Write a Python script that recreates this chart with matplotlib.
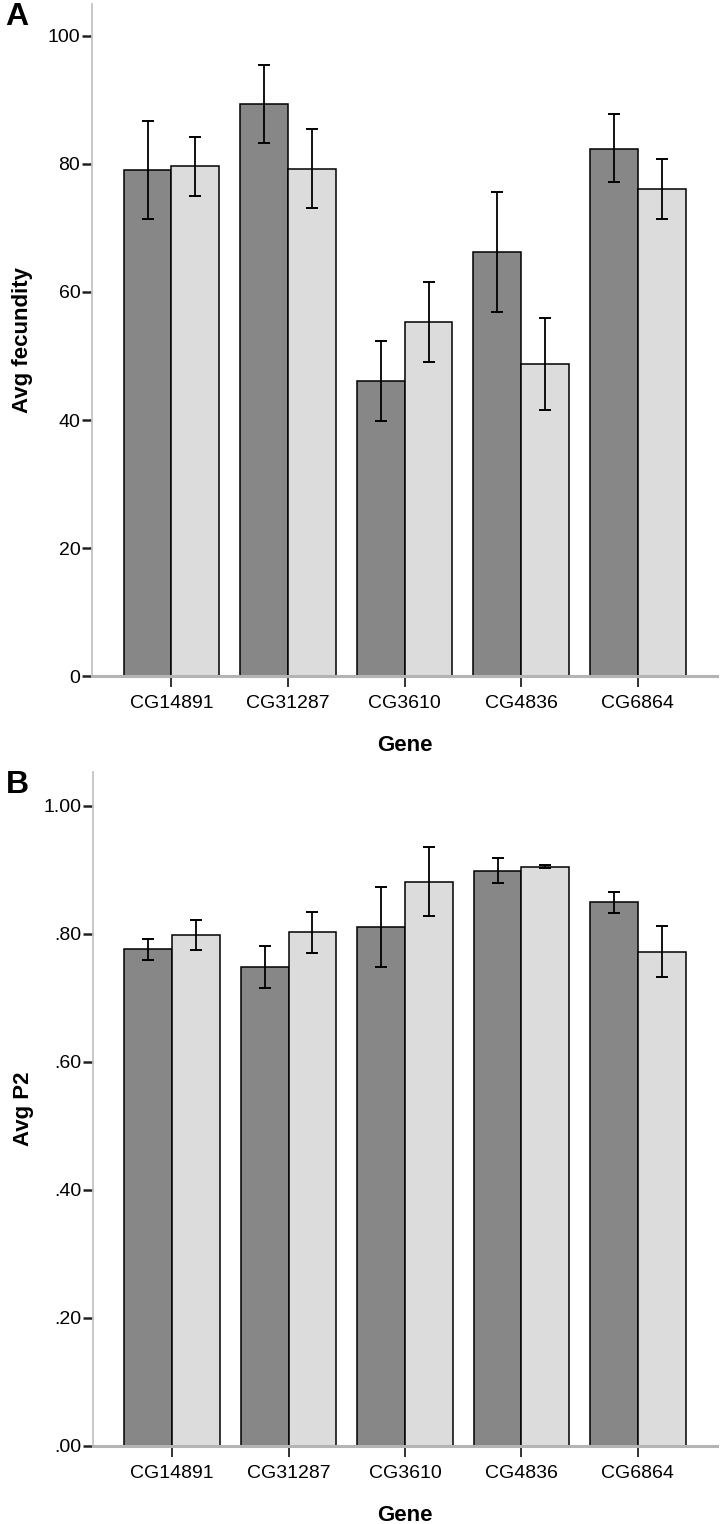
import numpy as np
import matplotlib
matplotlib.use('Agg')
import matplotlib.pyplot as plt

genes = ['CG14891', 'CG31287', 'CG3610', 'CG4836', 'CG6864']

# panel A - avg fecundity (dark / light bars), error bar ends
fec_dark = [79.0, 89.3, 46.1, 66.2, 82.4]
fec_dark_hi = [86.7, 95.4, 52.3, 75.6, 87.8]
fec_dark_lo = [71.4, 83.3, 39.9, 56.9, 77.2]
fec_light = [79.7, 79.2, 55.3, 48.8, 76.1]
fec_light_hi = [84.2, 85.5, 61.6, 55.9, 80.8]
fec_light_lo = [75.0, 73.1, 49.1, 41.6, 71.4]

# panel B - avg P2
p2_dark = [0.776, 0.748, 0.810, 0.898, 0.850]
p2_dark_hi = [0.792, 0.781, 0.873, 0.918, 0.865]
p2_dark_lo = [0.759, 0.715, 0.748, 0.880, 0.832]
p2_light = [0.798, 0.803, 0.881, 0.905, 0.772]
p2_light_hi = [0.822, 0.834, 0.935, 0.907, 0.812]
p2_light_lo = [0.775, 0.770, 0.828, 0.903, 0.733]

fec_ticks = [0, 20, 40, 60, 80, 100]
p2_ticks = [0.0, 0.2, 0.4, 0.6, 0.8, 1.0]

DARK = '#878787'
LIGHT = '#dcdcdc'
FONT = 'Liberation Sans'


def draw_panel(ax, dark, dark_hi, dark_lo, light, light_hi, light_lo,
               ticks, ticklabels, ymax, ylabel, letter):
    x = np.arange(len(genes))
    w = 0.41
    err_kw = dict(ecolor='black', elinewidth=1.3, capsize=4.5, capthick=1.4)
    dark = np.array(dark)
    light = np.array(light)
    d_err = [dark - np.array(dark_lo), np.array(dark_hi) - dark]
    l_err = [light - np.array(light_lo), np.array(light_hi) - light]
    ax.bar(x - w / 2, dark, w, color=DARK, edgecolor='black', linewidth=1.1,
           yerr=d_err, error_kw=err_kw, zorder=2)
    ax.bar(x + w / 2, light, w, color=LIGHT, edgecolor='black', linewidth=1.1,
           yerr=l_err, error_kw=err_kw, zorder=2)

    ax.set_xlim(-0.68, 4.68)
    ax.set_ylim(0, ymax)
    ax.set_xticks(x)
    ax.set_xticklabels(genes, fontsize=14, family=FONT)
    ax.set_yticks(ticks)
    ax.set_yticklabels(ticklabels, fontsize=14, family=FONT)
    ax.tick_params(axis='y', length=7, width=1.8, color='#222222', pad=1.5)
    ax.tick_params(axis='x', length=8, width=1.3, color='#222222', pad=6)

    for s in ['top', 'right']:
        ax.spines[s].set_visible(False)
    ax.spines['left'].set_color('#c4c4c4')
    ax.spines['left'].set_linewidth(1.3)
    ax.spines['bottom'].set_color('#b4b4b4')
    ax.spines['bottom'].set_linewidth(2.2)
    ax.spines['bottom'].set_zorder(3)

    ax.set_xlabel('Gene', fontsize=16, fontweight='bold', family=FONT, labelpad=16)
    ax.set_ylabel(ylabel, fontsize=16, fontweight='bold', family=FONT)
    ax.yaxis.set_label_coords(-0.095, 0.5)
    ax.text(-0.139, 1.003, letter, transform=ax.transAxes, fontsize=23,
            fontweight='bold', family=FONT, ha='left', va='top')


def p2_fmt(v):
    s = '%.2f' % v
    return s[1:] if s.startswith('0') else s


def main():
    fig = plt.figure(figsize=(7.2, 15.24), dpi=100)
    ax1 = fig.add_axes([0.128, 0.5564, 0.868, 0.441])
    ax2 = fig.add_axes([0.129, 0.0512, 0.867, 0.4423])

    draw_panel(ax1, fec_dark, fec_dark_hi, fec_dark_lo,
               fec_light, fec_light_hi, fec_light_lo,
               fec_ticks, [str(t) for t in fec_ticks], 105,
               'Avg fecundity', 'A')
    draw_panel(ax2, p2_dark, p2_dark_hi, p2_dark_lo,
               p2_light, p2_light_hi, p2_light_lo,
               p2_ticks, [p2_fmt(t) for t in p2_ticks], 1.053,
               'Avg P2', 'B')

    fig.savefig('out.png', dpi=100)


if __name__ == '__main__':
    main()
